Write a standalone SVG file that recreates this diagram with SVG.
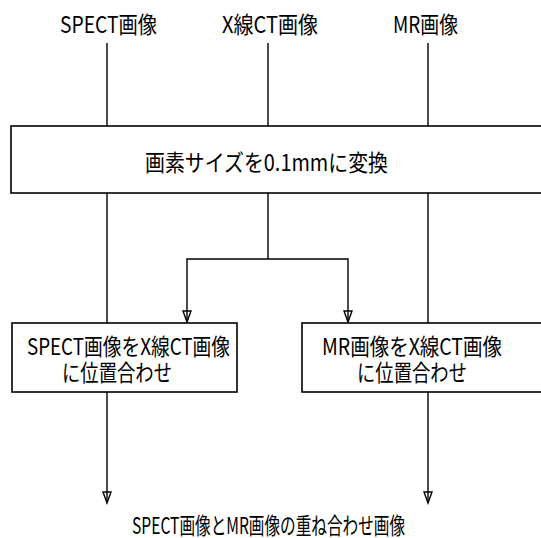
<svg xmlns="http://www.w3.org/2000/svg" width="541" height="538" viewBox="0 0 541 538">
<style>
text { font-family: "Noto Sans CJK JP", "Noto Sans", sans-serif; font-size: 23px; fill: #000; }
.box { fill: #fff; stroke: #000; stroke-width: 1.6; }
.ln { fill: none; stroke: #000; stroke-width: 1.4; }
</style>
<defs>
<marker id="arrd" markerUnits="userSpaceOnUse" markerWidth="12" markerHeight="14" viewBox="-6 -12 12 14" refX="0" refY="0" orient="0">
<path d="M-4,-11 L4,-11 L0,0 Z" fill="none" stroke="#000" stroke-width="1.4"/>
</marker>
</defs>
<g id="connectors">
<line class="ln" x1="107" y1="43" x2="107" y2="126"/>
<line class="ln" x1="268" y1="43" x2="268" y2="126"/>
<line class="ln" x1="428" y1="43" x2="428" y2="126"/>
<line class="ln" x1="107" y1="193" x2="107" y2="323"/>
<line class="ln" x1="428" y1="193" x2="428" y2="323"/>
<line class="ln" x1="268" y1="193" x2="268" y2="259"/>
<path class="ln" d="M187,322 L187,259 L348,259 L348,322" marker-start="url(#arrd)" marker-end="url(#arrd)"/>
<line class="ln" x1="107" y1="392" x2="107" y2="503" marker-end="url(#arrd)"/>
<line class="ln" x1="428" y1="392" x2="428" y2="503" marker-end="url(#arrd)"/>
</g>
<g id="label-spect"><text x="60" y="33" textLength="97" lengthAdjust="spacingAndGlyphs">SPECT画像</text></g>
<g id="label-xct"><text x="222" y="33" textLength="96" lengthAdjust="spacingAndGlyphs">X線CT画像</text></g>
<g id="label-mr"><text x="393" y="33" textLength="65" lengthAdjust="spacingAndGlyphs">MR画像</text></g>
<g id="convert">
<rect class="box" x="11" y="126" width="540" height="67"/>
<text x="145" y="171" textLength="243" lengthAdjust="spacingAndGlyphs">画素サイズを0.1mmに変換</text>
</g>
<g id="register-spect">
<rect class="box" x="12" y="323" width="225" height="69"/>
<text x="27" y="355" textLength="203" lengthAdjust="spacingAndGlyphs">SPECT画像をX線CT画像</text>
<text x="62" y="381" textLength="110" lengthAdjust="spacingAndGlyphs">に位置合わせ</text>
</g>
<g id="register-mr">
<rect class="box" x="302" y="323" width="250" height="69"/>
<text x="322" y="355" textLength="180" lengthAdjust="spacingAndGlyphs">MR画像をX線CT画像</text>
<text x="357" y="381" textLength="110" lengthAdjust="spacingAndGlyphs">に位置合わせ</text>
</g>
<g id="result"><text x="132" y="534" textLength="273" lengthAdjust="spacingAndGlyphs">SPECT画像とMR画像の重ね合わせ画像</text></g>
</svg>
